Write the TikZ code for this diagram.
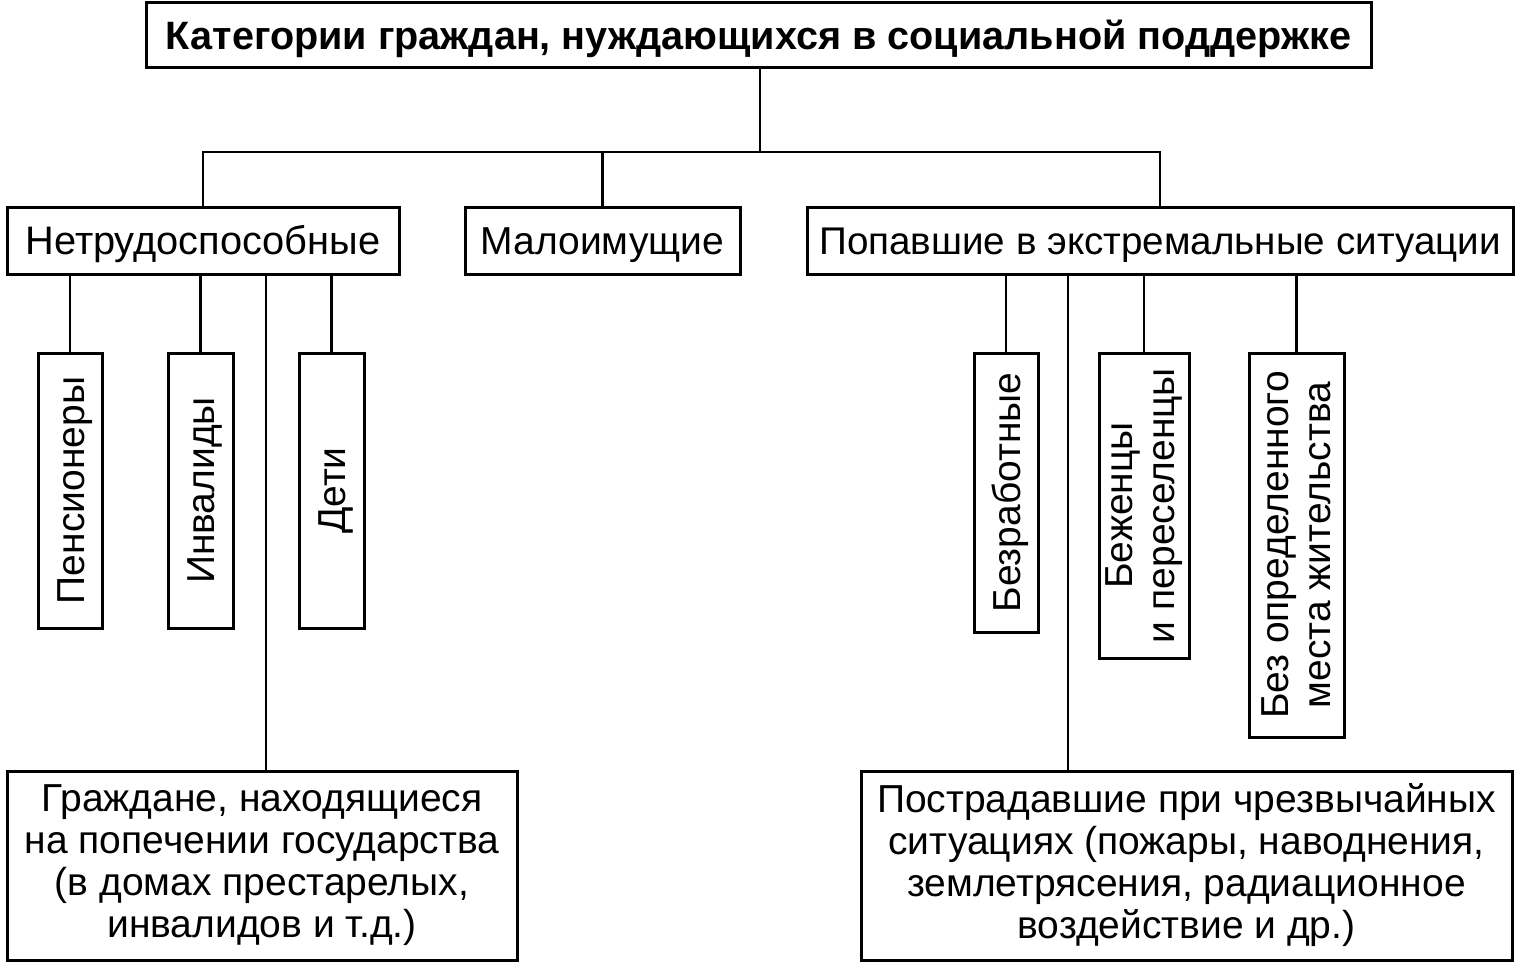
\documentclass[tikz,border=0pt]{standalone}
\usepackage{fontspec}
\setmainfont{Liberation Sans}
\begin{document}
\begin{tikzpicture}[x=0.5pt,y=-0.5pt,
  box/.style={draw, line width=1.5pt, inner sep=0pt, align=center},
  lbl/.style={font=\fontsize{19.5}{21}\selectfont},
  one/.style={text height=14pt, text depth=0pt},
  conn/.style={line width=1.4pt}]
\useasboundingbox (0,0) rectangle (1516,963);
% title
\node[box, one, minimum width=612.5pt, minimum height=32.5pt, font=\fontsize{19.8}{22}\selectfont\bfseries] (title) at (758.5,35.5) {Категории граждан, нуждающихся в социальной поддержке};
% level 2
\node[box, one, font=\fontsize{19.9}{21}\selectfont, minimum width=196pt, minimum height=33.5pt] (net) at (203,240.5) {Нетрудоспособные};
\node[box, lbl, one, minimum width=137.5pt, minimum height=33.5pt] (malo) at (602.5,240.5) {Малоимущие};
\node[box, lbl, one, minimum width=353pt, minimum height=33.5pt, font=\fontsize{19.3}{21}\selectfont] (pop) at (1160,240.5) {Попавшие в экстремальные ситуации};
% vertical boxes
\node[box, lbl, one, rotate=90, minimum width=137.5pt, minimum height=32pt] (pens) at (70,490.5) {Пенсионеры};
\node[box, lbl, one, rotate=90, minimum width=137.5pt, minimum height=32.5pt] (inv) at (200.5,490.5) {Инвалиды};
\node[box, lbl, one, rotate=90, minimum width=137.5pt, minimum height=32.5pt] (deti) at (331.5,490.5) {Дети};
\node[box, lbl, one, rotate=90, minimum width=139.5pt, minimum height=32pt] (bezr) at (1006,492.5) {Безработные};
\node[box, lbl, rotate=90, minimum width=152.5pt, minimum height=45pt] (bezh) at (1144,505.5) {Беженцы\\и переселенцы};
\node[box, lbl, rotate=90, minimum width=192pt, minimum height=47.5pt] (bom) at (1296.5,545) {Без определенного\\места жительства};
% bottom boxes
\node[box, lbl, minimum width=255pt, minimum height=94.5pt] (grazh) at (262,865.5) {Граждане, находящиеся\\на попечении государства\\(в домах престарелых,\\инвалидов и т.д.)};
\node[box, lbl, minimum width=325.5pt, minimum height=94.5pt] (postr) at (1186.5,865.5) {Пострадавшие при чрезвычайных\\ситуациях (пожары, наводнения,\\землетрясения, радиационное\\воздействие и др.)};
% connectors
\coordinate (j) at (760,152);
\draw[conn] (net.north) |- (pop.north |- j) -- (pop.north);
\draw[conn] (title.south -| j) -- (j);
\draw[conn] (malo.north) -- (malo.north |- j);
\draw[conn] (pens.east) -- (pens.east |- net.south);
\draw[conn] (inv.east) -- (inv.east |- net.south);
\draw[conn] (deti.east) -- (deti.east |- net.south);
\draw[conn] ([xshift=2pt]grazh.north) -- ([xshift=2pt]grazh.north |- net.south);
\draw[conn] (bezr.east) -- (bezr.east |- pop.south);
\draw[conn] (bezh.east) -- (bezh.east |- pop.south);
\draw[conn] (bom.east) -- (bom.east |- pop.south);
\draw[conn] ([xshift=-59.25pt]postr.north) -- ([xshift=-59.25pt]postr.north |- pop.south);
\end{tikzpicture}
\end{document}
